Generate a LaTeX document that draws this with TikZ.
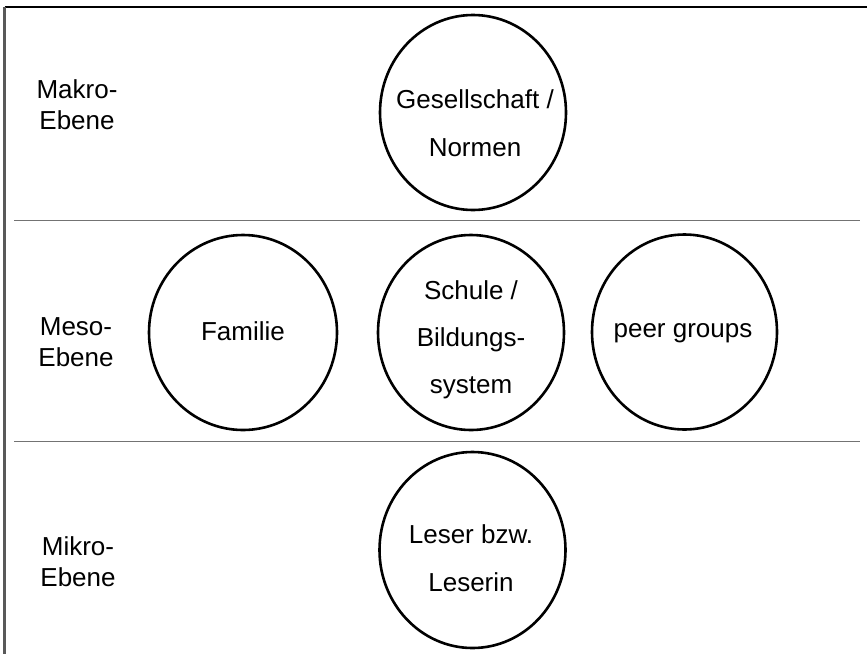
\documentclass[tikz,border=0pt]{standalone}
\usepackage{fontspec}
\setmainfont{Liberation Sans}
\usetikzlibrary{shapes.geometric}
\newcommand\stacklines[1]{\begin{tabular}[t]{@{}c@{}}#1\end{tabular}}
\begin{document}
\begin{tikzpicture}[x=1pt,y=-1pt,
  sphere/.style={ellipse,draw=black,line width=2.6pt,inner sep=0pt,outer sep=0pt,
    minimum width=186pt,minimum height=195pt},
  circletext/.style={anchor=base,inner sep=0pt,font=\fontsize{26}{48}\selectfont},
  leveltext/.style={anchor=base,inner sep=0pt,font=\fontsize{26}{31}\selectfont},
  divider/.style={draw=black!55,line width=1.6pt},
]
\useasboundingbox (0,0) rectangle (867,654);

% frame: top edge and left edge
\coordinate (tl) at (4.5,6.5);
\coordinate (tr) at (867,6.5);
\coordinate (bl) at (4.5,654);
\draw[black,line width=2pt] (tl) -- (tr);
\draw[black!65,line width=2.2pt] (tl) -- (bl);

% dividers between the three levels
\coordinate (d1a) at (14,220.5);  \coordinate (d1b) at (860,220.5);
\coordinate (d2a) at (14,441.5);  \coordinate (d2b) at (860,441.5);
\draw[divider] (d1a) -- (d1b);
\draw[divider] (d2a) -- (d2b);

% level names
\node[leveltext] (makro) at (77,98)  {\stacklines{Makro-\\Ebene}};
\node[leveltext] (meso)  at (76,335) {\stacklines{Meso-\\Ebene}};
\node[leveltext] (mikro) at (78,555) {\stacklines{Mikro-\\Ebene}};

% macro level
\node[sphere] (ges) at (473,112.5) {};
\node[circletext] (gestext) at (475,108) {\stacklines{Gesellschaft /\\Normen}};

% meso level
\node[sphere,minimum width=188pt] (fam) at (243,332.5) {};
\node[circletext] (famtext) at (243,340) {Familie};
\node[sphere] (schule) at (471,332.5) {};
\node[circletext,font=\fontsize{26}{47}\selectfont] (schuletext) at (471,299)
  {\stacklines{Schule /\\Bildungs-\\system}};
\node[sphere,minimum width=185pt] (peer) at (684.5,332) {};
\node[circletext] (peertext) at (683,337) {peer groups};

% micro level
\node[sphere,minimum height=196pt] (leser) at (472.5,550) {};
\node[circletext] (lesertext) at (471,543) {\stacklines{Leser bzw.\\Leserin}};
\end{tikzpicture}
\end{document}
